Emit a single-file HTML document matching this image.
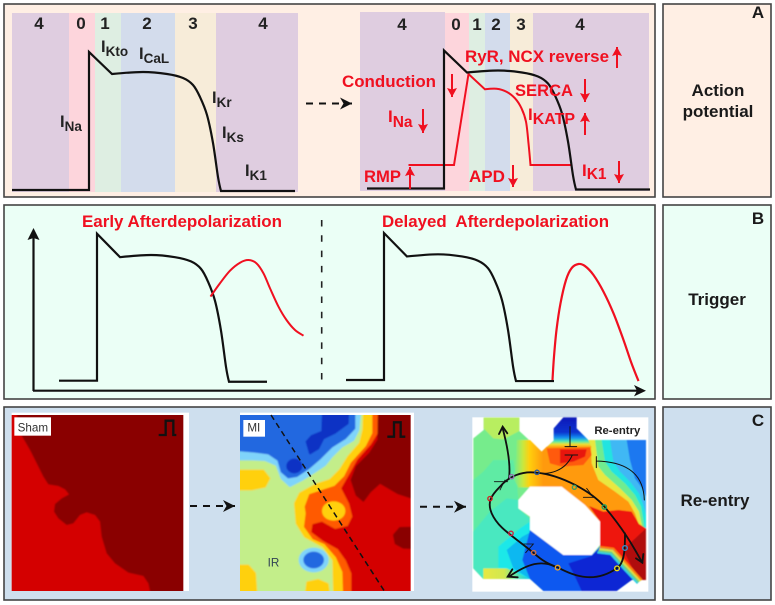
<!DOCTYPE html>
<html lang="en">
<head>
<meta charset="utf-8">
<title>Action potential, trigger and re-entry</title>
<style>
html,body{margin:0;padding:0;background:#fff;}
svg{display:block;filter:blur(.35px);font-family:"Liberation Sans",sans-serif;}
.d{font-size:17px;font-weight:700;fill:#222;text-anchor:middle;}
.i{font-size:16.5px;font-weight:700;fill:#222;}
.r{font-size:17px;font-weight:700;fill:#f01020;}
.side{font-size:17px;font-weight:700;fill:#1a1a1a;text-anchor:middle;}
.arr{stroke:#f01020;stroke-width:2;fill:none;}
.dash{stroke:#111;stroke-width:2;stroke-dasharray:7 6;fill:none;}
</style>
</head>
<body>
<svg id="figure" width="775" height="605" viewBox="0 0 775 605" xmlns="http://www.w3.org/2000/svg">
<defs>
<marker id="redHead" markerUnits="userSpaceOnUse" markerWidth="12" markerHeight="12" refX="9" refY="5" orient="auto"><path d="M0 0L9 5L0 10L1.5 5z" fill="#f01020"/></marker>
<marker id="blackHead" markerUnits="userSpaceOnUse" markerWidth="14" markerHeight="14" refX="12" refY="6" orient="auto"><path d="M0 0L12 6L0 12L3.5 6z" fill="#111"/></marker>
<clipPath id="miClip"><rect x="15" y="45" width="512" height="528"/></clipPath>
<clipPath id="shamClip"><rect x="35" y="45" width="515" height="528"/></clipPath>
<filter id="soft" x="-5%" y="-5%" width="110%" height="110%"><feGaussianBlur stdDeviation="2"/></filter>
<filter id="softer" x="-5%" y="-5%" width="110%" height="110%"><feGaussianBlur stdDeviation="1.2"/></filter>
<linearGradient id="hGrad" gradientUnits="userSpaceOnUse" x1="240" y1="0" x2="325" y2="0">
<stop offset="0" stop-color="#7aec88"/><stop offset=".28" stop-color="#c8e840"/><stop offset=".5" stop-color="#ffd010"/><stop offset="1" stop-color="#ff9a10"/>
</linearGradient>
<linearGradient id="vGrad" gradientUnits="userSpaceOnUse" x1="0" y1="52" x2="0" y2="142">
<stop offset="0" stop-color="#0818b8"/><stop offset=".5" stop-color="#0a34d0"/><stop offset=".68" stop-color="#1490f0"/><stop offset=".8" stop-color="#50e8b0"/><stop offset=".9" stop-color="#f0e030"/><stop offset="1" stop-color="#ff9a10"/>
</linearGradient>
<linearGradient id="stripGrad" gradientUnits="userSpaceOnUse" x1="145" y1="0" x2="285" y2="0">
<stop offset="0" stop-color="#e8e840"/><stop offset=".45" stop-color="#d0e850"/><stop offset=".7" stop-color="#60e8a8"/><stop offset="1" stop-color="#10c8e8"/>
</linearGradient>
</defs>

<rect width="775" height="605" fill="#fff"/>
<g stroke="#444" stroke-width="1.6">
<rect x="4" y="4" width="651" height="193" fill="#ffefe4"/>
<rect x="4" y="205" width="651" height="194" fill="#ebfff6"/>
<rect x="4" y="407" width="651" height="193" fill="#cedfee"/>
<rect x="663" y="4" width="108" height="193" fill="#ffefe4"/>
<rect x="663" y="205" width="108" height="194" fill="#ebfff6"/>
<rect x="663" y="407" width="108" height="193" fill="#cedfee"/>
</g>

<g>
<text class="side" x="758" y="18">A</text>
<text class="side" x="718" y="96">Action</text>
<text class="side" x="718" y="117">potential</text>
<text class="side" x="758" y="224">B</text>
<text class="side" x="717" y="305">Trigger</text>
<text class="side" x="758" y="426">C</text>
<text class="side" x="715" y="506">Re-entry</text>
</g>

<g>
<rect x="12" y="13" width="57" height="179" fill="#dfcde0"/>
<rect x="69" y="13" width="26" height="179" fill="#fdd5dc"/>
<rect x="95" y="13" width="26" height="179" fill="#deeee2"/>
<rect x="121" y="13" width="54" height="179" fill="#d3dcec"/>
<rect x="175" y="13" width="41" height="179" fill="#f7ecd9"/>
<rect x="216" y="13" width="82" height="179" fill="#dfcde0"/>
</g>
<g>
<rect x="360" y="12" width="85" height="179" fill="#dfcde0"/>
<rect x="445" y="13" width="24" height="178" fill="#fdd5dc"/>
<rect x="469" y="13" width="16" height="178" fill="#deeee2"/>
<rect x="485" y="13" width="25" height="178" fill="#d3dcec"/>
<rect x="510" y="13" width="23" height="178" fill="#f7ecd9"/>
<rect x="533" y="13" width="116" height="178" fill="#dfcde0"/>
</g>

<g>
<text class="d" x="39" y="29">4</text>
<text class="d" x="81" y="29">0</text>
<text class="d" x="105" y="29">1</text>
<text class="d" x="147" y="29">2</text>
<text class="d" x="193" y="29">3</text>
<text class="d" x="263" y="29">4</text>
<text class="d" x="402" y="30">4</text>
<text class="d" x="456" y="30">0</text>
<text class="d" x="477" y="30">1</text>
<text class="d" x="496" y="30">2</text>
<text class="d" x="521" y="30">3</text>
<text class="d" x="580" y="30">4</text>
</g>

<g id="traces"></g>

<g>
<text class="i" x="60" y="127">I<tspan font-size="13.5" dy="4">Na</tspan></text>
<text class="i" x="101" y="52">I<tspan font-size="13.5" dy="4">Kto</tspan></text>
<text class="i" x="139" y="59">I<tspan font-size="13.5" dy="4">CaL</tspan></text>
<text class="i" x="212" y="103">I<tspan font-size="13.5" dy="4">Kr</tspan></text>
<text class="i" x="222" y="138">I<tspan font-size="13.5" dy="4">Ks</tspan></text>
<text class="i" x="245" y="176">I<tspan font-size="13.5" dy="4">K1</tspan></text>
</g>

<g>
<text class="r" x="465" y="62" textLength="144" lengthAdjust="spacingAndGlyphs">RyR, NCX reverse</text>
<text class="r" x="342" y="87" textLength="94" lengthAdjust="spacingAndGlyphs">Conduction</text>
<text class="r" x="515" y="96" textLength="58" lengthAdjust="spacingAndGlyphs">SERCA</text>
<text class="r" x="528" y="120">I<tspan font-size="16" dy="4">KATP</tspan></text>
<text class="r" x="388" y="122">I<tspan font-size="15.5" dy="5">Na</tspan></text>
<text class="r" x="364" y="182" textLength="37" lengthAdjust="spacingAndGlyphs">RMP</text>
<text class="r" x="469" y="182" textLength="36" lengthAdjust="spacingAndGlyphs">APD</text>
<text class="r" x="582" y="176">I<tspan font-size="15.5" dy="3">K1</tspan></text>
<line class="arr" x1="617" y1="68" x2="617" y2="47" marker-end="url(#redHead)"/>
<line class="arr" x1="452" y1="74" x2="452" y2="97" marker-end="url(#redHead)"/>
<line class="arr" x1="585" y1="79" x2="585" y2="102" marker-end="url(#redHead)"/>
<line class="arr" x1="585" y1="135" x2="585" y2="113" marker-end="url(#redHead)"/>
<line class="arr" x1="423" y1="109" x2="423" y2="133" marker-end="url(#redHead)"/>
<line class="arr" x1="410" y1="189" x2="410" y2="167" marker-end="url(#redHead)"/>
<line class="arr" x1="513" y1="165" x2="513" y2="187" marker-end="url(#redHead)"/>
<line class="arr" x1="619" y1="161" x2="619" y2="183" marker-end="url(#redHead)"/>
</g>
<line class="dash" x1="306" y1="103.5" x2="352" y2="103.5" marker-end="url(#blackHead)"/>

<g>
<text class="r" x="82" y="227" textLength="200" lengthAdjust="spacingAndGlyphs">Early Afterdepolarization</text>
<text class="r" x="382" y="227" textLength="227" lengthAdjust="spacingAndGlyphs" xml:space="preserve">Delayed  Afterdepolarization</text>
<line x1="321.7" y1="220" x2="321.7" y2="383" stroke="#222" stroke-width="1.6" stroke-dasharray="6.5 8.8"/>
<path d="M33.5 391V236" stroke="#111" stroke-width="2.2" fill="none"/>
<path d="M33.5 228L39.5 240L33.5 238L27.5 240z" fill="#111"/>
<path d="M33 390.7H638" stroke="#111" stroke-width="2.2" fill="none"/>
<path d="M646 390.7L634 385L637 390.7L634 396.4z" fill="#111"/>
</g>

<g transform="translate(0 400) scale(.33333)">
<rect x="35" y="38" width="532" height="535" fill="#fff"/>
<g clip-path="url(#shamClip)">
<g filter="url(#soft)">
<rect x="0" y="0" width="600" height="620" fill="#d40000"/>
<polygon fill="#8a0000" points="45,20 65,107 90,150 115,200 130,230 145,253 175,258 195,268 207,283 185,295 165,312 162,335 175,355 200,375 220,370 240,345 260,337 285,345 300,365 305,410 320,460 345,490 385,518 430,528 445,550 458,610 620,610 620,20"/>
</g>
</g>
<rect x="43" y="52" width="110" height="55" fill="#fff"/>
<text x="53" y="94" font-size="35" fill="#333">Sham</text>
<path d="M476 105H497V62H520V105H529" fill="none" stroke="#111" stroke-width="7"/>
</g>
<line class="dash" x1="190" y1="506" x2="235" y2="506" marker-end="url(#blackHead)"/>

<g transform="translate(235 400) scale(.33333)">
<rect x="15" y="38" width="522" height="535" fill="#fff"/>
<g clip-path="url(#miClip)">
<g filter="url(#soft)" stroke-linejoin="round" stroke-width="6">
<rect x="-20" y="0" width="600" height="620" fill="#c3ee8a"/>
<polygon fill="#7fd4fa" stroke="#7fd4fa" points="-20,10 378,10 370,90 355,120 320,140 290,170 270,195 240,215 200,240 165,258 140,235 125,195 90,180 50,178 -20,178"/>
<polygon fill="#2468e0" stroke="#2468e0" points="-20,10 358,10 358,85 330,115 290,140 255,175 220,205 185,228 160,232 140,215 130,180 100,160 60,155 -20,148"/>
<polygon fill="#0a30c4" stroke="#0a30c4" points="265,10 340,10 338,70 300,98 265,115 250,145 225,160 215,125 230,108 262,95"/>
<ellipse cx="178" cy="198" rx="24" ry="22" fill="#0a30c4"/>
<polygon fill="#ffd010" stroke="#ffd010" points="388,10 580,10 580,610 298,610 295,480 265,440 210,410 185,370 180,310 195,280 240,255 285,240 315,210 340,170 375,130 385,90"/>
<polygon fill="#ff5a00" stroke="#ff5a00" points="415,10 580,10 580,610 328,610 325,515 305,470 270,430 235,415 210,380 215,340 212,320 225,285 270,270 300,260 330,230 350,190 395,140 415,100"/>
<polygon fill="#d40000" stroke="#d40000" points="432,10 580,10 580,610 352,610 352,520 335,480 310,445 265,420 232,395 235,375 260,368 300,390 340,380 355,350 345,310 322,265 345,225 370,180 410,135 432,100"/>
<ellipse cx="296" cy="333" rx="35" ry="29" fill="#ffd010"/>
<polygon fill="#8a0000" stroke="#8a0000" points="432,10 580,10 580,292 527,292 490,280 435,248 405,275 385,302 365,285 350,240 365,200 405,160 430,120"/>
<polygon fill="#8a0000" stroke="#8a0000" points="580,382 495,384 477,405 482,430 505,443 580,446"/>
<polygon fill="#ffd010" stroke="#ffd010" points="-20,212 85,212 103,235 90,260 50,268 -20,268"/>
<polygon fill="#ffd010" stroke="#ffd010" points="-20,497 40,497 60,520 66,610 -20,610"/>
<polygon fill="#ffd010" stroke="#ffd010" points="209,610 217,547 250,540 278,552 286,610"/>
<ellipse cx="236" cy="480" rx="45" ry="37" fill="#7fd4fa"/>
<ellipse cx="236" cy="480" rx="31" ry="25" fill="#2468e0"/>
</g>
</g>
<rect x="25" y="60" width="65" height="50" fill="#fff"/>
<text x="37" y="95" font-size="35" fill="#333">MI</text>
<text x="98" y="500" font-size="35" fill="#345">IR</text>
<path d="M457 110H477V67H497V110H511" fill="none" stroke="#111" stroke-width="7"/>
<line x1="108" y1="45" x2="448" y2="573" stroke="#111" stroke-width="4.5" stroke-dasharray="17 12"/>
</g>
<line class="dash" x1="420" y1="506.7" x2="466" y2="506.7" marker-end="url(#blackHead)"/>

<g transform="translate(435 400) scale(.33333)">
<rect x="112" y="52" width="528" height="523" fill="#fff"/>
<g filter="url(#softer)">
<polygon fill="#76ec8c" points="115,115 146,90 146,53 253,53 253,93 320,155 356,122 460,120 633,120 633,540 590,540 545,573 325,573 285,537 145,537 115,505"/>
<polygon fill="#b8ee60" points="146,53 253,53 253,93 205,118 175,115 146,85"/>
<polygon fill="#5eeba4" points="115,240 145,215 175,180 235,180 245,240 250,300 250,325 285,355 285,537 145,537 115,505"/>
<polygon fill="#48e8c0" points="115,395 165,335 215,295 250,300 250,325 285,355 285,537 145,537 115,505"/>
<polygon fill="#1ee8e8" points="190,505 190,440 255,385 285,365 290,400 345,440 350,537 190,537"/>
<polygon fill="#10b8f0" points="235,505 215,450 262,410 290,395 330,440 330,560 285,537"/>
<polygon fill="#1058f0" points="285,390 345,435 385,465 470,465 495,440 535,445 580,495 620,540 590,540 545,573 325,573 285,537 262,480"/>
<polygon fill="#0a28d4" points="400,490 470,468 495,445 530,448 578,497 618,540 590,540 545,573 440,573 420,530"/>
<polygon fill="url(#stripGrad)" points="145,505 215,505 285,537 145,537"/>
<rect x="460" y="120" width="173" height="300" fill="#1a78f0"/>
<polygon fill="#40b8f4" points="460,120 575,120 585,180 600,235 622,265 633,290 633,420 460,420"/>
<polygon fill="#20e4e0" points="460,120 525,120 535,185 555,215 585,245 612,280 625,315 633,345 633,420 460,420"/>
<polygon fill="#70ec90" points="460,120 500,120 510,185 530,215 570,250 600,285 618,320 625,360 633,420 460,420"/>
<polygon fill="#e8e840" points="460,120 480,120 490,200 510,225 555,265 590,300 612,335 618,365 633,420 460,420"/>
<polygon fill="url(#hGrad)" points="245,120 285,120 320,155 335,140 468,140 470,190 490,240 540,275 580,305 600,340 612,375 620,420 495,420 380,262 250,262 235,235 243,190"/>
<polygon fill="url(#vGrad)" points="320,155 356,122 356,85 385,52 425,52 425,85 460,120 470,142 335,142"/>
<polygon fill="#ff5a10" points="335,145 465,142 470,165 445,195 380,200 345,190"/>
<polygon fill="#e81810" points="375,148 455,148 450,170 415,185 375,190"/>
<polygon fill="#ee1808" points="462,318 505,335 550,330 590,335 612,372 633,385 633,540 620,540 580,495 535,445 495,440 495,365"/>
<polygon fill="#b00c0c" points="565,450 590,425 633,385 633,540 620,540 590,500"/>
<g fill="none" stroke-width="6">
<polyline stroke="#30d0e0" points="487,457 527,462 570,510 608,550"/>
<polyline stroke="#70d080" points="490,452 530,457 574,506 612,546"/>
<polyline stroke="#e0e040" points="493,447 532,452 577,501 616,543"/>
<polyline stroke="#ff8010" points="495,441 535,446 580,496 620,540"/>
</g>
<polygon fill="#fff" points="250,300 285,260 380,260 450,315 495,365 495,435 470,465 385,465 345,435 285,390 285,350 250,325"/>
</g>
<g fill="none" stroke="#111" stroke-linecap="round">
<path stroke-width="5.5" d="M622 488C600 450 575 400 510 322C470 275 380 225 305 218C260 212 220 230 195 260C170 285 155 305 170 340C190 385 230 405 295 458C330 490 350 495 370 503C420 530 480 550 545 505C570 490 570 440 570 400"/>
<path stroke-width="5.5" d="M222 236C228 190 215 130 203 85"/>
<path stroke-width="5.5" d="M360 500C320 480 280 490 222 530"/>
<path stroke-width="3" d="M307 218C340 225 390 215 412 165"/>
<path stroke-width="3" d="M405 80V140M390 140H425M390 165H428"/>
<path stroke-width="3" d="M484 183C560 185 625 210 628 300M484 170V203"/>
<path stroke-width="5.5" d="M192 102L203 80L217 100"/>
<path stroke-width="5.5" d="M232 508L218 530L248 532"/>
<path stroke-width="5.5" d="M603 475L622 488L625 462"/>
<path stroke-width="2.5" d="M178 245L218 245M195 270L210 240M455 265L475 292L445 292M262 432L295 432L272 458"/>
</g>
<g fill="none" stroke-width="4">
<circle cx="306" cy="217" r="6.5" stroke="#2a5aa0"/>
<circle cx="230" cy="230" r="6.5" stroke="#9070b0"/>
<circle cx="165" cy="296" r="6.5" stroke="#d02020"/>
<circle cx="228" cy="400" r="6.5" stroke="#d02040"/>
<circle cx="296" cy="458" r="6.5" stroke="#d07040"/>
<circle cx="368" cy="503" r="7" stroke="#f0a020"/>
<circle cx="546" cy="505" r="7" stroke="#f0e010"/>
<circle cx="570" cy="444" r="7" stroke="#3090d0"/>
<circle cx="508" cy="321" r="6.5" stroke="#20a060"/>
<circle cx="418" cy="262" r="6" stroke="#40a060"/>
</g>
<text x="478" y="102" font-size="34" font-weight="700" fill="#222">Re-entry</text>
</g>

<script>
// Action-potential values: time in ms relative to the upstroke, membrane voltage in mV.
const apTime = [0, 0, 46, 108, 156, 188, 208, 222, 236, 248, 258, 264];
const apVoltage = [-85, 53, 31, 33, 31, 27, 20, 8, -10, -38, -72, -86];
const restStartA = -154;
const restEndA = 412;
const restStartB = -76;
const restEndB = 340;
const restVoltage = -85;
const footVoltage = -86;
const remodelledTime = [-71, 20, 49, 82, 105, 125, 142, 155, 164, 169, 173, 253];
const remodelledVoltage = [-61.5, -61.5, 29.5, 14.2, 14.8, 11.8, 5.2, -4.8, -18.2, -39.8, -61.5, -61.5];
const eadTime = [227, 246, 266, 286, 303, 319, 333, 346, 363, 379, 396, 413];
const eadVoltage = [-6, 6.5, 18.3, 25.8, 28.3, 25.2, 15.8, 1.8, -15.5, -28, -37.4, -42.7];
const dadTime = [337, 340, 345, 353, 364, 375, 389, 402, 419, 439, 459, 479, 495, 509];
const dadVoltage = [-85, -63, -38, -13, 8.9, 19.9, 23.9, 22, 13.6, -2.1, -22.4, -47.4, -69.3, -86];

function xAxis(origin) { return function (t) { return origin + t * 0.5; }; }
function yAxis(rest, gain) { return function (v) { return rest - (v + 85) * gain; }; }

function curvePath(times, volts, sx, sy, corners) {
  const p = times.map(function (t, i) { return [sx(t), sy(volts[i])]; });
  let d = 'M' + p[0][0].toFixed(2) + ' ' + p[0][1].toFixed(2);
  for (let i = 0; i < p.length - 1; i++) {
    const a = p[Math.max(i - 1, 0)], b = p[i], c = p[i + 1], e = p[Math.min(i + 2, p.length - 1)];
    const c1 = corners.indexOf(i) >= 0 ? b : [b[0] + (c[0] - a[0]) / 6, b[1] + (c[1] - a[1]) / 6];
    const c2 = corners.indexOf(i + 1) >= 0 ? c : [c[0] - (e[0] - b[0]) / 6, c[1] - (e[1] - b[1]) / 6];
    d += 'C' + c1[0].toFixed(2) + ' ' + c1[1].toFixed(2) + ' ' + c2[0].toFixed(2) + ' ' + c2[1].toFixed(2) + ' ' + c[0].toFixed(2) + ' ' + c[1].toFixed(2);
  }
  return d;
}

const traceLayer = document.getElementById('traces');
function addCurve(d, colour, width) {
  const el = document.createElementNS('http://www.w3.org/2000/svg', 'path');
  el.setAttribute('d', d);
  el.setAttribute('fill', 'none');
  el.setAttribute('stroke', colour);
  el.setAttribute('stroke-width', width);
  el.setAttribute('stroke-linejoin', 'miter');
  traceLayer.appendChild(el);
  return el;
}
const apCorners = [0, 1, 2, 3, 12, 13];
const remodelledCorners = [0, 1, 2, 3, 10, 11];
function withRest(start, end) {
  return { t: [start].concat(apTime, [end]), v: [restVoltage].concat(apVoltage, [footVoltage]) };
}

const restA = withRest(restStartA, restEndA);
const restB = withRest(restStartB, restEndB);
const xA1 = xAxis(89), yA1 = yAxis(190, 1);
const xA2 = xAxis(444), yA2 = yAxis(188.5, 1);
const xB1 = xAxis(97), yB1 = yAxis(380.7, 1.065);
const xB2 = xAxis(384), yB2 = yAxis(380, 1.065);

const traceNormal = addCurve(curvePath(restA.t, restA.v, xA1, yA1, apCorners), '#111', 2.2);


const traceRemodelled = addCurve(curvePath(remodelledTime, remodelledVoltage, xA2, yA2, remodelledCorners), '#f01020', 2);


const traceReference = addCurve(curvePath(restA.t, restA.v, xA2, yA2, apCorners), '#111', 2.2);


const traceEarlyBase = addCurve(curvePath(restB.t, restB.v, xB1, yB1, apCorners), '#111', 2.2);


const traceEad = addCurve(curvePath(eadTime, eadVoltage, xB1, yB1, [0]), '#f01020', 2);


const traceDelayedBase = addCurve(curvePath(restB.t, restB.v, xB2, yB2, apCorners), '#111', 2.2);


const traceDad = addCurve(curvePath(dadTime, dadVoltage, xB2, yB2, [0]), '#f01020', 2.2);


</script>
</svg>
</body>
</html>
